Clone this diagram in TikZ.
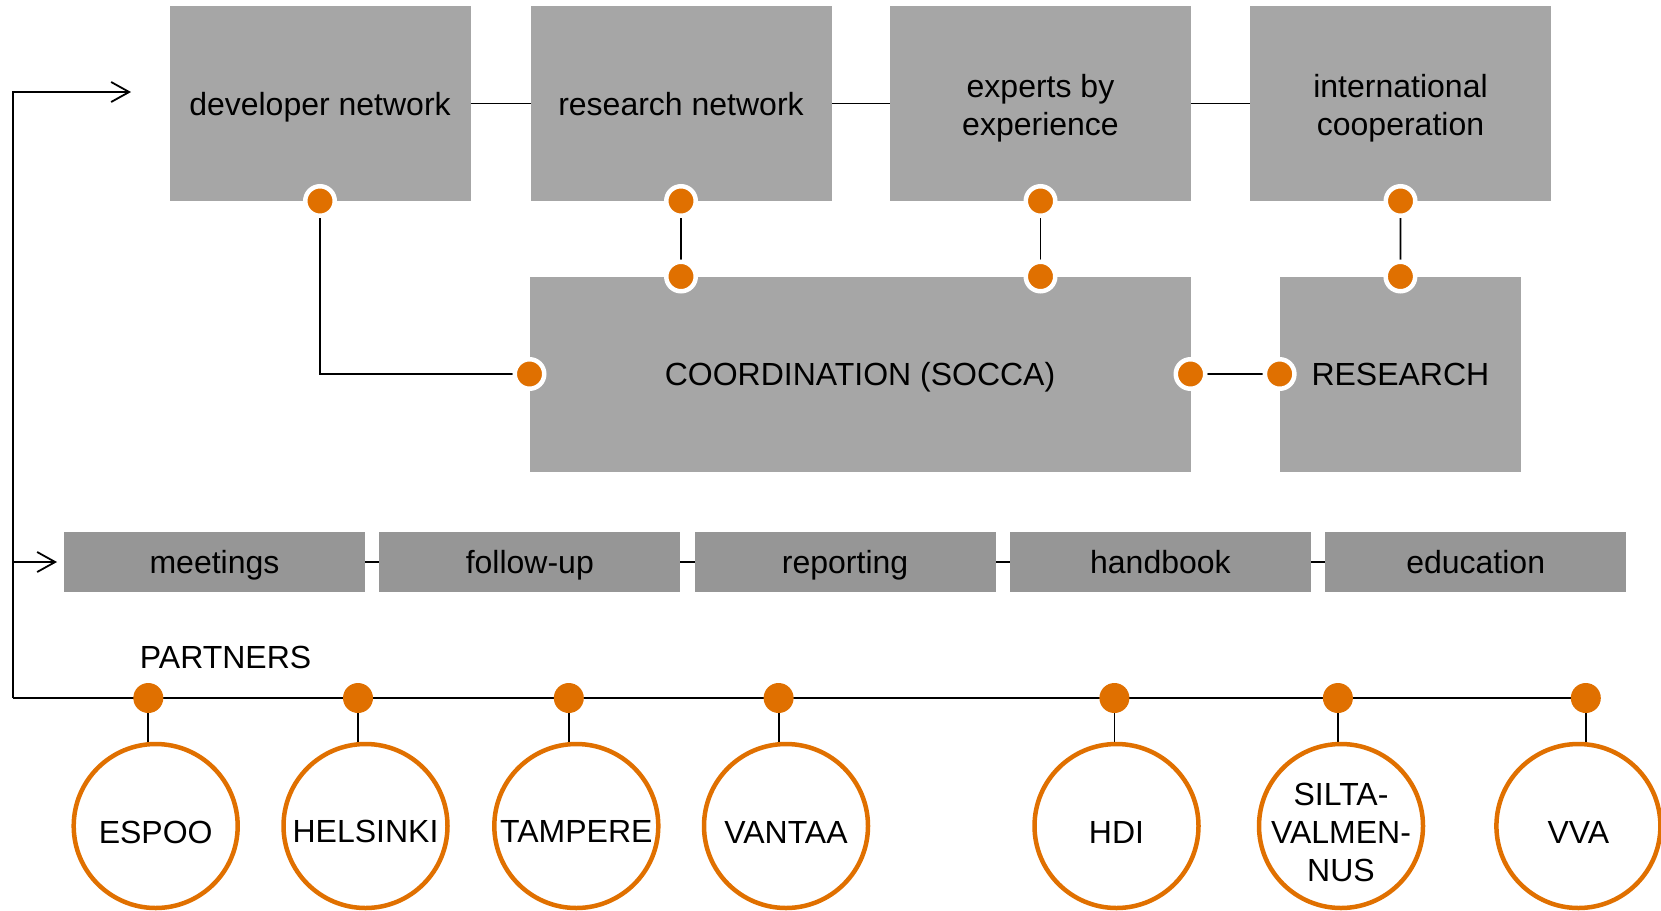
\documentclass[tikz,border=0pt]{standalone}
\usepackage{fontspec}
\setmainfont{Liberation Sans}
\usetikzlibrary{arrows.meta}
\pgfdeclarelayer{bg}
\pgfsetlayers{bg,main}
\definecolor{org}{HTML}{E07000}
\definecolor{boxgray}{HTML}{A6A6A6}
\definecolor{bargray}{HTML}{969696}
\begin{document}
\begin{tikzpicture}[x=1pt,y=-1pt,
 font=\fontsize{32}{38}\selectfont,
 bigbox/.style={fill=boxgray, minimum height=195pt, inner sep=0pt, outer sep=0pt, align=center, text=black},
 oneline/.style={text height=23pt, text depth=0pt},
 barbox/.style={fill=bargray, minimum width=301pt, minimum height=60pt, inner sep=0pt, outer sep=0pt, oneline},
 ringdot/.style={circle, fill=org, draw=white, line width=4.5pt, minimum size=29.5pt, inner sep=0pt, outer sep=0pt},
 pdot/.style={circle, fill=org, minimum size=30pt, inner sep=0pt, outer sep=0pt},
 partner/.style={circle, draw=org, line width=4.5pt, fill=white, minimum size=164pt, inner sep=0pt, align=center},
 ponel/.style={text height=35pt, text depth=0pt},
 conn/.style={line width=1.8pt, draw=black},
 arr/.style={conn, -{Straight Barb[length=18pt,width=20pt]}}
]
\useasboundingbox (0,0) rectangle (1661,910);

% top boxes
\node[bigbox, oneline, minimum width=301pt] (dev) at (320,103.5) {developer network};
\node[bigbox, oneline, minimum width=301pt] (resnet) at (681,103.5) {research network};
\node[bigbox, minimum width=301pt] (exp) at (1040.5,103.5) {\rule{0pt}{32.3pt}experts by\\experience};
\node[bigbox, minimum width=301pt] (intl) at (1400.5,103.5) {\rule{0pt}{32.3pt}international\\cooperation};
\node[bigbox, oneline, minimum width=661pt] (coord) at (860,374) {COORDINATION (SOCCA)};
\node[bigbox, oneline, minimum width=241.5pt] (res) at (1400.4,374) {RESEARCH};

% dots on boxes
\node[ringdot] (d1) at (dev.south) {};
\node[ringdot] (d2a) at (resnet.south) {};
\node[ringdot] (d2b) at (resnet |- coord.north) {};
\node[ringdot] (d3a) at (exp.south) {};
\node[ringdot] (d3b) at (exp |- coord.north) {};
\node[ringdot] (d4a) at (intl.south) {};
\node[ringdot] (d4b) at (res.north) {};
\node[ringdot] (dL) at (coord.west) {};
\node[ringdot] (dR) at (coord.east) {};
\node[ringdot] (dS) at (res.west) {};

% bars
\node[barbox] (b1) at (214.5,562) {meetings};
\node[barbox] (b2) at (529.8,562) {follow-up};
\node[barbox] (b3) at (845.1,562) {reporting};
\node[barbox] (b4) at (1160.4,562) {handbook};
\node[barbox] (b5) at (1475.7,562) {education};

% partners
\node[oneline, inner sep=0pt] (plabel) at (225.6,656.5) {PARTNERS};
\node[pdot] (p1) at (148.3,698) {};
\node[pdot] (p2) at (358,698) {};
\node[pdot] (p3) at (568.8,698) {};
\node[pdot] (p4) at (778.6,698) {};
\node[pdot] (p5) at (1114.4,698) {};
\node[pdot] (p6) at (1337.9,698) {};
\node[pdot] (p7) at (1585.8,698) {};

\node[partner, ponel] (c1) at (155.7,826) {ESPOO};
\node[partner, text height=32pt, text depth=0pt] (c2) at (365.5,826) {HELSINKI};
\node[partner, text height=32pt, text depth=0pt] (c3) at (576.3,826) {TAMPERE};
\node[partner, ponel] (c4) at (786,826) {VANTAA};
\node[partner, ponel] (c5) at (1116.5,826) {HDI};
\node[partner] (c6) at (1341,826) {};
\node[align=center, inner sep=0pt] (c6t) at ([yshift=-6pt]c6.center) {SILTA-\\VALMEN-\\NUS};
\node[partner, ponel] (c7) at (1578.4,826) {VVA};

\coordinate (corner) at (12.7,698);
\coordinate (aTop) at (12.7,92);
\coordinate (aEnd) at (131,92);
\coordinate (aMid) at (12.7,562);
\coordinate (aMidEnd) at (57,562);

\begin{pgfonlayer}{bg}
\draw[conn] (dev.east |- 0,103.5) -- (resnet.west |- 0,103.5);
\draw[conn] (resnet.east |- 0,103.5) -- (exp.west |- 0,103.5);
\draw[conn] (exp.east |- 0,103.5) -- (intl.west |- 0,103.5);
\draw[conn] (d2a) -- (d2b);
\draw[conn] (d3a) -- (d3b);
\draw[conn] (d4a) -- (d4b);
\draw[conn] (d1) |- (dL);
\draw[conn] (dR) -- (dS);
\draw[arr] (corner) -- (aTop) -- (aEnd);
\draw[arr] (aMid) -- (aMidEnd);
\draw[conn] (b1) -- (b2);
\draw[conn] (b2) -- (b3);
\draw[conn] (b3) -- (b4);
\draw[conn] (b4) -- (b5);
\draw[conn] (corner) -- (p7);
\foreach \i in {1,...,7} {
  \draw[conn] (p\i) -- (p\i |- c\i.north);
}
\end{pgfonlayer}
\end{tikzpicture}
\end{document}
